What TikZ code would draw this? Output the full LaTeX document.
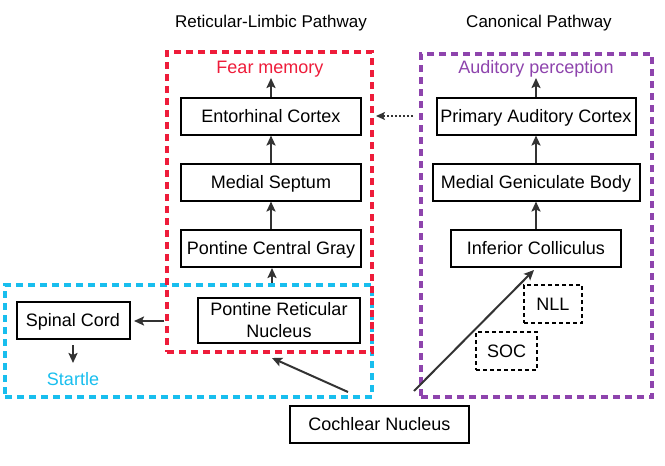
\documentclass[tikz,border=0pt]{standalone}
\usepackage{fontspec}
\setmainfont{Liberation Sans}
\usetikzlibrary{arrows.meta,calc}
\definecolor{fearred}{HTML}{EE1C3A}
\definecolor{startblue}{HTML}{18BEEE}
\definecolor{audpurple}{HTML}{8E44AD}
\definecolor{arrowgray}{HTML}{333333}
\tikzset{
  every node/.style={font=\fontsize{18}{20}\selectfont, inner sep=0pt},
  titletext/.style={font=\fontsize{17}{19}\selectfont},
  capcenter/.style={text height=12.9pt, text depth=0pt},
  region/.style={draw, line width=4pt, dash pattern=on 7pt off 5pt, minimum width=#1},
  areabox/.style={draw, line width=2pt, minimum height=37pt, align=center},
  smallbox/.style={draw, line width=1.5pt, dash pattern=on 4pt off 3pt, minimum height=38pt, capcenter},
  conn/.style={draw=arrowgray, line width=2pt, -{Stealth[length=10pt,width=9pt,inset=2pt]}},
}
\begin{document}
\begin{tikzpicture}[x=1pt,y=-1pt]
\useasboundingbox (0,0) rectangle (665,466);
% region boxes
\node[region=367pt, draw=startblue, minimum height=112pt] (startbox) at (188.5,341) {};
\node[region=205pt, draw=fearred, minimum height=300pt] (fearbox) at (269.5,202) {};
\node[region=231pt, draw=audpurple, minimum height=343pt] (audbox) at (536.5,225.5) {};
% titles
\node[titletext, capcenter] (t1) at (271,21) {Reticular-Limbic Pathway};
\node[titletext, capcenter] (t2) at (539,21) {Canonical Pathway};
\node[text=fearred, capcenter] (fear) at (270,67) {Fear memory};
\node[text=audpurple, capcenter] (aud) at (536,67) {Auditory perception};
\node[text=startblue, capcenter] (startle) at (73,379) {Startle};
% left column
\node[areabox, capcenter, minimum width=180pt] (ec) at (271,116) {Entorhinal Cortex};
\node[areabox, capcenter, minimum width=180pt] (ms) at (271,182) {Medial Septum};
\node[areabox, capcenter, minimum width=180pt] (pcg) at (271,248) {Pontine Central Gray};
\node[areabox, minimum width=162pt, minimum height=45pt, font=\fontsize{18}{22}\selectfont] (prn) at (279,320) {Pontine Reticular\\Nucleus};
\node[areabox, capcenter, minimum width=113pt] (sc) at (73,320) {Spinal Cord};
% right column
\node[areabox, capcenter, minimum width=199pt] (pac) at (536,116) {Primary Auditory Cortex};
\node[areabox, capcenter, minimum width=207pt] (mgb) at (536,182) {Medial Geniculate Body};
\node[areabox, capcenter, minimum width=170pt] (ic) at (536,248) {Inferior Colliculus};
\node[smallbox, minimum width=58pt] (nll) at (553,304) {NLL};
\node[smallbox, minimum width=61pt] (soc) at (506.5,351) {SOC};
\node[areabox, capcenter, minimum width=179pt] (cn) at (379.5,424.5) {Cochlear Nucleus};
% helper coordinates
\coordinate (ectop) at (271,78);
\coordinate (pactop) at (536,78);
\coordinate (prnup) at (272,283);
\coordinate (prnupend) at (272,268);
\coordinate (prnleft) at (164,321);
\coordinate (scright) at (134,321);
\coordinate (scdown) at (73,345);
\coordinate (scdownend) at (73,363);
\coordinate (cnleft) at (348,392);
\coordinate (fearbottom) at (272,358);
\coordinate (cnright) at (414,391);
\coordinate (icbottom) at (534,270);
\coordinate (dotstart) at (413,116);
\coordinate (dotend) at (376,116);
% connectors
\draw[conn] (ec.north) -- (ectop);
\draw[conn] (ms.north) -- (ec.south);
\draw[conn] (pcg.north) -- (ms.south);
\draw[conn] (prnup) -- (prnupend);
\draw[conn] (prnleft) -- (scright);
\draw[conn] (scdown) -- (scdownend);
\draw[conn] (pac.north) -- (pactop);
\draw[conn] (mgb.north) -- (pac.south);
\draw[conn] (ic.north) -- (mgb.south);
\draw[conn] (cnleft) -- (fearbottom);
\draw[conn] (cnright) -- (icbottom);
\draw[draw=arrowgray, line width=2pt, dash pattern=on 2pt off 2pt, -{Stealth[length=9pt,width=8pt,inset=2pt]}] (dotstart) -- (dotend);
\end{tikzpicture}
\end{document}
